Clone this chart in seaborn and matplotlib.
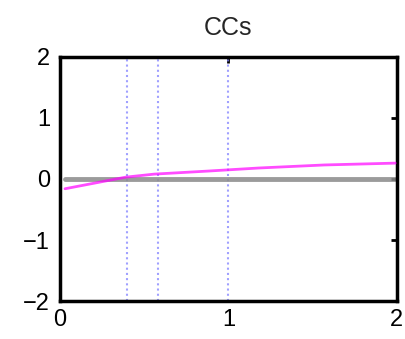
import matplotlib
matplotlib.use("Agg")
import matplotlib.pyplot as plt
import seaborn as sns
import pandas as pd

sns.set_style("white")
plt.rcParams['font.family'] = ['Liberation Sans', 'DejaVu Sans']

# Data
curve_x = [0.03, 0.39, 0.56, 0.88, 1.18, 1.57, 1.99]
curve_y = [-0.16, 0.03, 0.08, 0.13, 0.18, 0.23, 0.26]
baseline_x = [0.03, 2.0]
baseline_y = [0.0, 0.0]
vline_x = [0.40, 0.58, 1.0]
x_ticks = [0, 1, 2]
y_ticks = [-2, -1, 0, 1, 2]
title = "CCs"

fig = plt.figure(figsize=(4.05, 3.39), dpi=100)
ax = fig.add_axes([0.148, 0.112, 0.832, 0.72])

for xv in vline_x:
    ax.axvline(xv, color="#8080ff", linestyle=(0, (1, 1.5)), linewidth=1.5, alpha=0.75, zorder=1)

sns.lineplot(x=baseline_x, y=baseline_y, ax=ax, color="#8a8a8a", linewidth=3.5, alpha=0.85, zorder=2)
sns.lineplot(x=curve_x, y=curve_y, ax=ax, color="#ff00ff", linewidth=2, alpha=0.7, zorder=3)

ax.set_xlim(0, 2)
ax.set_ylim(-2, 2)
ax.set_xticks(x_ticks)
ax.set_yticks(y_ticks)
ax.set_xticklabels([str(t) for t in x_ticks])
ax.set_yticklabels([str(t).replace("-", "\u2212") for t in y_ticks])
ax.tick_params(direction="in", length=4, width=2, top=True, right=True,
               labelsize=17, colors="black")
ax.tick_params(axis="x", pad=6)
ax.tick_params(axis="y", pad=7)
for s in ax.spines.values():
    s.set_linewidth(2.5)
    s.set_color("black")
    s.set_visible(True)
ax.set_title(title, fontsize=18, pad=16)

fig.savefig("out.png", dpi=100)
